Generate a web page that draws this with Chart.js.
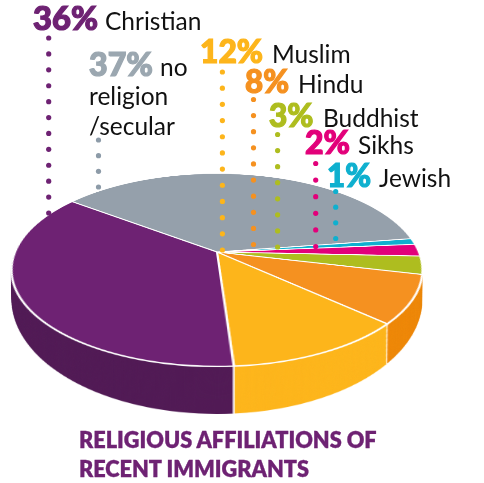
<!DOCTYPE html>
<html>
<head>
<meta charset="utf-8">
<script src="https://cdn.jsdelivr.net/npm/chart.js@4"></script>
<style>
body { margin: 0; background: #fff; }
#page { position: absolute; left: 0; top: 0; width: 484px; height: 483px; overflow: hidden; }
#page canvas { position: absolute; left: 0; top: 0; transform-origin: 0 0; }
#notes { position: absolute; left: 0; top: 0; }
text { font-family: Lato, sans-serif; }
.pct { font-size: 31.5px; font-weight: 900; stroke-width: 1.2px; }
.name { font-size: 24.5px; fill: #111; }
.title { font-size: 21.7px; font-weight: 800; fill: #6e2273; stroke: #6e2273; stroke-width: 0.3px; }
</style>
</head>
<body>
<div id="page">
<svg id="notes" width="484" height="483" style="z-index:5"></svg>
</div>
<script>
// clockwise from the back of the pie
const religions = ["No religion/secular", "Jewish", "Sikhs", "Buddhist", "Hindu", "Muslim", "Christian"];
const shares = [37, 1, 2, 3, 8, 12, 36];
const topColors = ["#95a0ab", "#0fb0cf", "#e2007a", "#aebd1f", "#f59120", "#fdb51b", "#6e2273"];
const sideColors = ["#6f7a84", "transparent", "transparent", "transparent", "#ee8707", "#fdb51b", "#511a55"];

const startAngle = -53;
const canvasSize = 420;
const sideLayers = 48;

// ellipse of the pie top and of its base, Y0 is where the centre lands in the ellipse
const topDisc = { cx: 217, cy: 270, a: 205.5, b: 96.5 };
const baseDisc = { cx: 217, cy: 300, a: 205, b: 114 };
const Y0 = -0.1865;

// dotted leaders: colour, x, first y, last y, number of dots
const leaders = [
	["#6e2273", 48.7, 38, 213, 12],
	["#8d9ba8", 98.5, 140, 187, 4],
	["#fdb51b", 222.4, 72, 250, 12],
	["#f59120", 253.5, 99.5, 244.5, 10],
	["#aebd1f", 277.6, 134.5, 247, 8],
	["#e2007a", 315.7, 163.5, 246.5, 6],
	["#0fb0cf", 335.7, 191.5, 238.5, 4]
];

// text, x, baseline, class, colour, stretched width
const labels = [
	["36%", 33, 30, "pct", "#6e2273", 65],
	["Christian", 105, 30, "name", ""],
	["37%", 89, 76, "pct", "#9ba7b0", 64],
	["no", 160, 76, "name", "#9ba7b0"],
	["religion", 89, 105, "name", "#9ba7b0"],
	["/secular", 89, 135, "name", "#9ba7b0"],
	["12%", 200, 63, "pct", "#fdb51b", 63],
	["Muslim", 272, 63, "name", ""],
	["8%", 245, 93, "pct", "#f59120", 44],
	["Hindu", 298, 93, "name", ""],
	["3%", 269, 127, "pct", "#aebd1f", 44.5],
	["Buddhist", 323, 127, "name", ""],
	["2%", 305, 154, "pct", "#e2007a", 45],
	["Sikhs", 358, 154, "name", ""],
	["1%", 327, 187, "pct", "#0fb0cf", 44],
	["Jewish", 379, 187, "name", ""],
	["RELIGIOUS AFFILIATIONS OF", 79, 448, "title", ""],
	["RECENT IMMIGRANTS", 79, 477, "title", ""]
];

function makeCanvas() {
	const c = document.createElement("canvas");
	c.style.width = canvasSize + "px";
	c.style.height = canvasSize + "px";
	document.getElementById("page").appendChild(c);
	return c;
}

// projective map of the round pie onto an ellipse, so the pie centre sits off the ellipse centre
function discMatrix(disc, R) {
	const c = canvasSize / 2;
	const k = Math.sqrt(1 - Y0 * Y0);
	const m44 = 1 - Y0 * c / R;
	const m24 = Y0 / R;
	const m11 = disc.a * k / R;
	const m21 = disc.cx * m24;
	const m41 = disc.cx * m44 - disc.a * k * c / R;
	const m22 = disc.cy * m24 + disc.b / R;
	const m42 = disc.cy * m44 - disc.b * c / R + disc.b * Y0;
	return `matrix3d(${m11},0,0,0, ${m21},${m22},0,${m24}, 0,0,1,0, ${m41},${m42},0,${m44})`;
}

// white seams on the side wall between the two front joins
const seamPlugin = {
	id: "seams",
	afterDatasetsDraw(chart) {
		const arcs = chart.getDatasetMeta(0).data;
		const ctx = chart.ctx;
		ctx.save();
		ctx.strokeStyle = "#fff";
		ctx.lineWidth = 1.6;
		for(const i of [5, 6]) {
			const a = arcs[i];
			ctx.beginPath();
			ctx.moveTo(a.x + Math.cos(a.startAngle) * a.outerRadius * 0.9, a.y + Math.sin(a.startAngle) * a.outerRadius * 0.9);
			ctx.lineTo(a.x + Math.cos(a.startAngle) * a.outerRadius, a.y + Math.sin(a.startAngle) * a.outerRadius);
			ctx.stroke();
		}
		ctx.restore();
	}
};

function makePie(canvas, colors, border, plugins) {
	return new Chart(canvas, {
		type: "pie",
		data: {
			labels: religions,
			datasets: [{
				data: shares,
				backgroundColor: colors,
				borderColor: "#fff",
				borderWidth: border
			}]
		},
		options: {
			responsive: false,
			animation: false,
			devicePixelRatio: 2,
			rotation: startAngle,
			layout: { padding: 0 },
			plugins: { legend: { display: false }, tooltip: { enabled: false } }
		},
		plugins: plugins
	});
}

function drawPie() {
	// side wall first: the base layer is a real chart, the ones above are copies of it
	const base = makeCanvas();
	const sideChart = makePie(base, sideColors, 0, [seamPlugin]);
	const sideR = sideChart.getDatasetMeta(0).data[0].outerRadius;
	base.style.transform = discMatrix(baseDisc, sideR);
	for(let i = sideLayers - 1; i > 0; i--) {
		const t = i / sideLayers;
		const layer = makeCanvas();
		layer.width = base.width;
		layer.height = base.height;
		layer.getContext("2d").drawImage(base, 0, 0);
		layer.style.transform = discMatrix({
			cx: topDisc.cx,
			cy: topDisc.cy + (baseDisc.cy - topDisc.cy) * t,
			a: topDisc.a + (baseDisc.a - topDisc.a) * t,
			b: topDisc.b + (baseDisc.b - topDisc.b) * t
		}, sideR);
	}

	const top = makeCanvas();
	const topChart = makePie(top, topColors, 2.2, []);
	top.style.transform = discMatrix(topDisc, topChart.getDatasetMeta(0).data[0].outerRadius);
}

function drawNotes() {
	const svg = document.getElementById("notes");
	const ns = "http://www.w3.org/2000/svg";
	for(const [color, x, y0, y1, n] of leaders) {
		for(let i = 0; i < n; i++) {
			const dot = document.createElementNS(ns, "circle");
			dot.setAttribute("cx", x);
			dot.setAttribute("cy", y0 + (y1 - y0) * i / (n - 1));
			dot.setAttribute("r", 2.6);
			dot.setAttribute("fill", color);
			svg.appendChild(dot);
		}
	}
	for(const [str, x, y, cls, color, width] of labels) {
		const t = document.createElementNS(ns, "text");
		t.setAttribute("x", x);
		t.setAttribute("y", y);
		t.setAttribute("class", cls);
		if(color) t.setAttribute("fill", color);
		if(cls == "pct") {
			t.setAttribute("stroke", color);
			t.setAttribute("textLength", width);
			t.setAttribute("lengthAdjust", "spacingAndGlyphs");
		}
		t.textContent = str;
		svg.appendChild(t);
	}
}

drawPie();
drawNotes();
</script>
</body>
</html>
